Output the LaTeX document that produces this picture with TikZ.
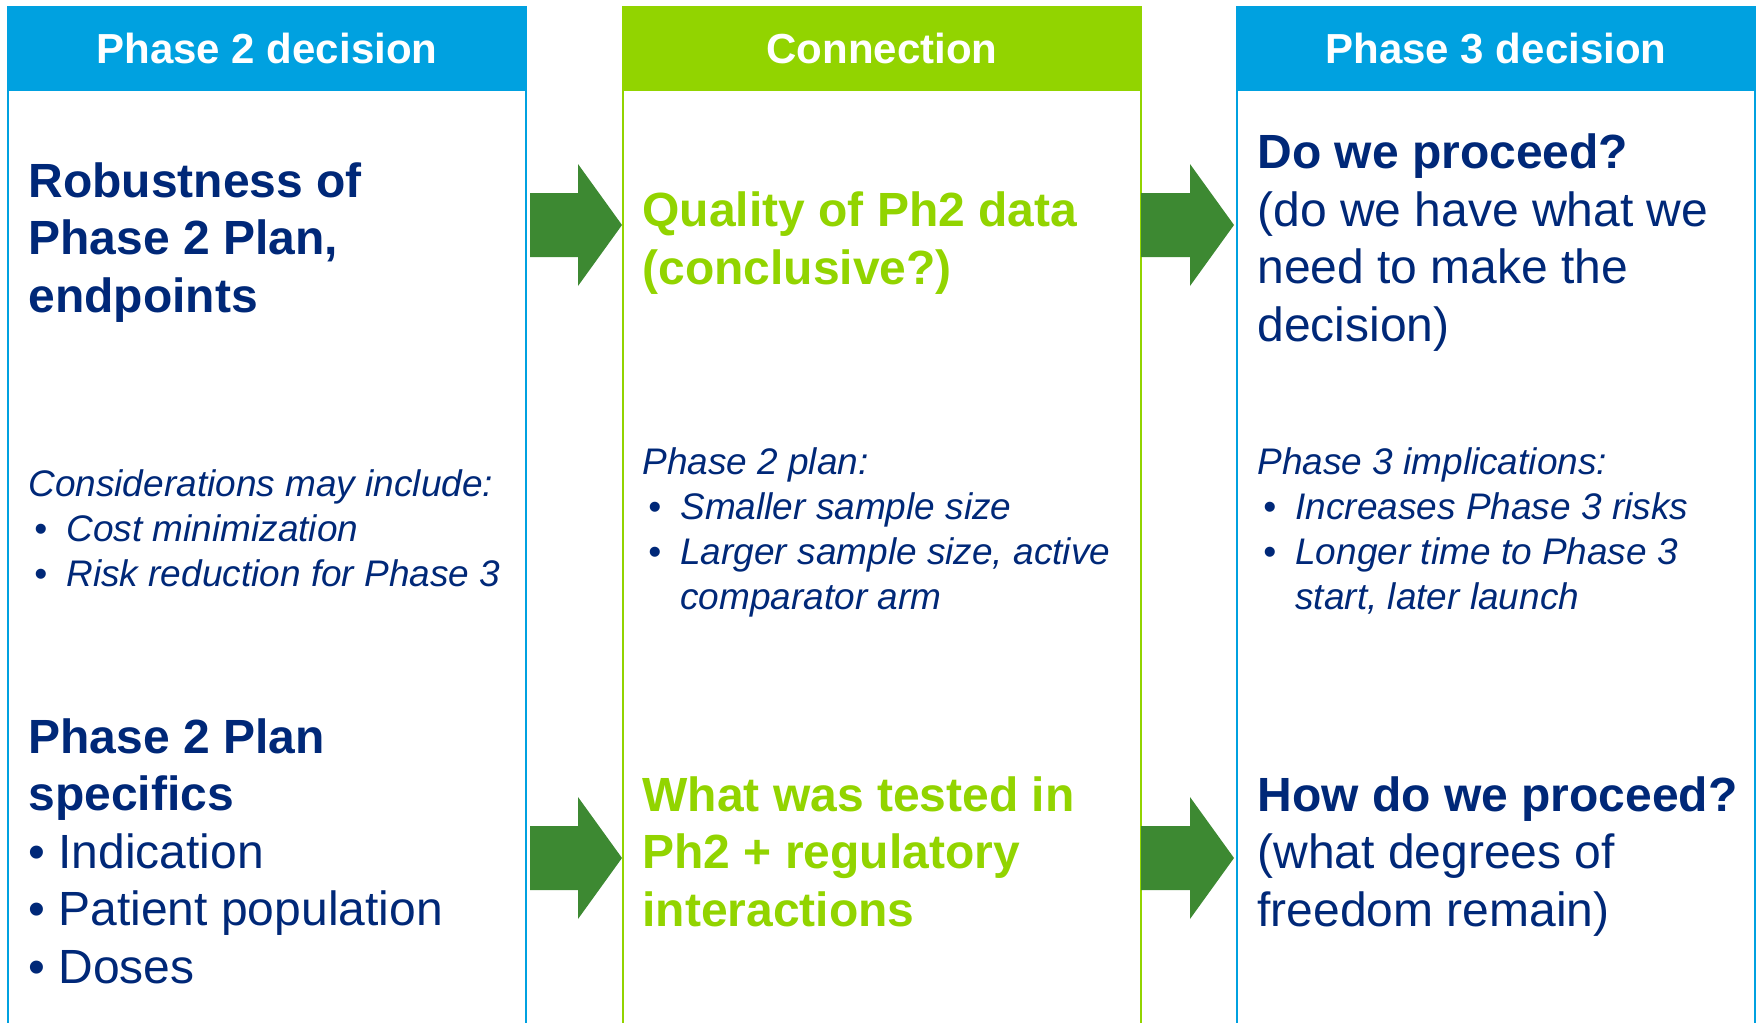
\documentclass[tikz,border=0pt]{standalone}
\usepackage{fontspec}
\setmainfont{Liberation Sans}
\usepackage{xcolor}
\usetikzlibrary{calc}

\definecolor{hdrblue}{RGB}{0,161,224}
\definecolor{hdrgreen}{RGB}{146,212,0}
\definecolor{navy}{RGB}{0,40,120}
\definecolor{arrowgreen}{RGB}{61,137,50}

% block arrow from a shaft start to a tip
\newcommand{\bigarrow}[2]{%
    \fill[arrowgreen] ($(#1)+(0,-32)$) -- ($(#2)+(-44,-32)$) -- ($(#2)+(-44,-61)$)
        -- (#2) -- ($(#2)+(-44,61)$) -- ($(#2)+(-44,32)$) -- ($(#1)+(0,32)$) -- cycle;}

\begin{document}
\begin{tikzpicture}[
    x=0.5pt, y=-0.5pt,
    panel/.style={draw=#1, line width=1pt, rectangle, anchor=north west,
        minimum width=259pt, minimum height=530pt, inner sep=0pt, outer sep=0pt},
    header/.style={fill=#1, draw=#1, line width=1pt, rectangle, anchor=north west,
        minimum width=259pt, minimum height=41.5pt, inner sep=0pt, outer sep=0pt,
        text=white, font=\fontsize{21}{25}\selectfont\bfseries},
    body/.style={anchor=base west, align=left, inner sep=0pt, text=navy,
        font=\fontsize{24}{28.7}\selectfont},
    bodybold/.style={body, font=\fontsize{24}{28.7}\selectfont\bfseries},
    keytext/.style={bodybold, text=hdrgreen},
    note/.style={body, font=\fontsize{18.5}{22.5}\selectfont\itshape}
]
    \useasboundingbox (0,0) rectangle (1763,1023);

    % Place panels
    \node[panel=hdrblue] (ph2) at (8,7) {};
    \node[panel=hdrgreen] (conn) at (623,7) {};
    \node[panel=hdrblue] (ph3) at (1237,7) {};
    \node[header=hdrblue] (ph2head) at (ph2.north west) {Phase 2 decision};
    \node[header=hdrgreen] (connhead) at (conn.north west) {Connection};
    \node[header=hdrblue] (ph3head) at (ph3.north west) {Phase 3 decision};

    % Texts (base = baseline of the last line)
    % Phase 2
    \node[bodybold] (robust) at (28,312) {Robustness of\\Phase 2 Plan,\\endpoints};
    \node[note] (consider) at (28,586) {Considerations may include:\\
        \makebox[19pt][l]{\hspace{3pt}•}Cost minimization\\
        \makebox[19pt][l]{\hspace{3pt}•}Risk reduction for Phase 3};
    \node[body] (specifics) at (28,983) {\textbf{Phase 2 Plan}\\\textbf{specifics}\\
        • Indication\\• Patient population\\• Doses};

    % Connection
    \node[keytext] (quality) at (642,284) {Quality of Ph2 data\\(conclusive?)};
    \node[note] (plan) at (642,609) {Phase 2 plan:\\
        \makebox[19pt][l]{\hspace{3pt}•}Smaller sample size\\
        \makebox[19pt][l]{\hspace{3pt}•}Larger sample size, active\\
        \hspace*{19pt}comparator arm};
    \node[keytext] (tested) at (642,926) {What was tested in\\Ph2 + regulatory\\interactions};

    % Phase 3
    \node[body] (proceed) at (1257,341) {\textbf{Do we proceed?}\\(do we have what we\\
        need to make the\\decision)};
    \node[note] (implic) at (1257,609) {Phase 3 implications:\\
        \makebox[19pt][l]{\hspace{3pt}•}Increases Phase 3 risks\\
        \makebox[19pt][l]{\hspace{3pt}•}Longer time to Phase 3\\
        \hspace*{19pt}start, later launch};
    \node[body] (howto) at (1257,926) {\textbf{How do we proceed?}\\(what degrees of\\
        freedom remain)};

    % Add connections
    \coordinate (a1) at ($(ph2.east |- 0,225)+(4,0)$);
    \coordinate (b1) at ($(conn.west |- 0,225)+(-1,0)$);
    \coordinate (a2) at (conn.east |- 0,225);
    \coordinate (b2) at ($(ph3.west |- 0,225)+(-3,0)$);
    \coordinate (a3) at ($(ph2.east |- 0,858)+(4,0)$);
    \coordinate (b3) at ($(conn.west |- 0,858)+(-1,0)$);
    \coordinate (a4) at (conn.east |- 0,858);
    \coordinate (b4) at ($(ph3.west |- 0,858)+(-3,0)$);
    \bigarrow{a1}{b1}
    \bigarrow{a2}{b2}
    \bigarrow{a3}{b3}
    \bigarrow{a4}{b4}
\end{tikzpicture}
\end{document}
